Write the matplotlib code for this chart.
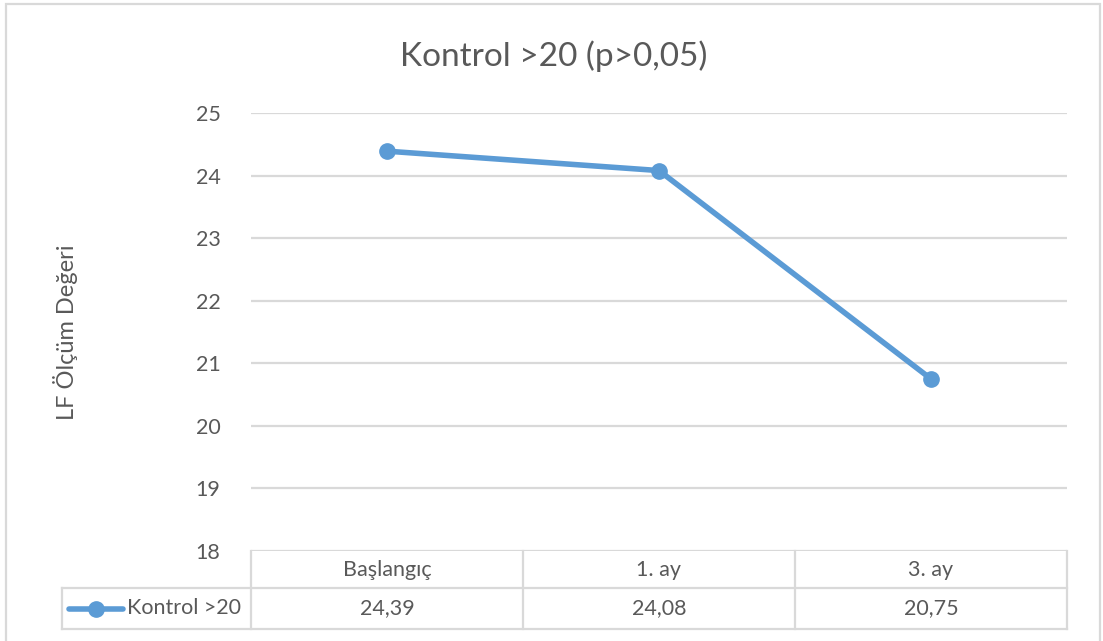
import matplotlib
matplotlib.use("Agg")
import matplotlib.pyplot as plt
from matplotlib.lines import Line2D
from matplotlib.patches import Rectangle
from matplotlib.transforms import blended_transform_factory

# Data
categories = ["Başlangıç", "1. ay", "3. ay"]
values = [24.39, 24.08, 20.75]
value_labels = ["24,39", "24,08", "20,75"]
series_name = "Kontrol >20"
y_ticks = [18, 19, 20, 21, 22, 23, 24, 25]
title = "Kontrol >20 (p>0,05)"
y_label = "LF Ölçüm Değeri"

W, H = 1103, 641
TEXT = "#595959"
GRID = "#d9d9d9"
BLUE = "#5b9bd5"
FS = 15.5
plt.rcParams["font.family"] = ["Lato", "DejaVu Sans"]

fig = plt.figure(figsize=(W / 100, H / 100), dpi=100)
fig.patch.set_facecolor("white")


def fx(px):
    return px / W


def fy(py):
    return 1 - py / H


# Plot area
left, right, top, bottom = 251, 1067, 113, 551
ax = fig.add_axes([fx(left), fy(bottom), fx(right - left), (bottom - top) / H])
ax.set_xlim(-0.5, len(categories) - 0.5)
ax.set_ylim(min(y_ticks), max(y_ticks))
ax.set_yticks(y_ticks)
ax.set_yticklabels([str(t) for t in y_ticks], fontsize=FS, color=TEXT)
ax.tick_params(axis="y", length=0, pad=22)
ax.set_xticks([])
for s in ax.spines.values():
    s.set_visible(False)
ax.grid(axis="y", color=GRID, linewidth=1.6)
ax.set_axisbelow(True)

x = list(range(len(categories)))
ax.plot(x, values, color=BLUE, linewidth=4, marker="o", markersize=11,
        solid_capstyle="round", zorder=3, clip_on=False)

# Title and axis label
fig.text(fx(554), fy(56), title, fontsize=24, color=TEXT,
         ha="center", va="center")
fig.text(fx(65), fy(332), y_label, fontsize=17, color=TEXT,
         rotation=90, ha="center", va="center")

# Data table below the plot
bt = blended_transform_factory(ax.transData, fig.transFigure)
ft = fig.transFigure
row_top, row_mid, row_bot = 551, 588, 629
legend_left = 62
lw = 1.6

# horizontal rules
for yy in (row_mid, row_bot):
    fig.add_artist(Line2D([fx(legend_left), fx(right)], [fy(yy), fy(yy)],
                          transform=ft, color=GRID, linewidth=lw))
# column boundaries
for xb in [i - 0.5 for i in range(len(categories) + 1)]:
    fig.add_artist(Line2D([xb, xb], [fy(row_top), fy(row_bot)],
                          transform=bt, color=GRID, linewidth=lw))
fig.add_artist(Line2D([fx(legend_left), fx(legend_left)],
                      [fy(row_mid), fy(row_bot)],
                      transform=ft, color=GRID, linewidth=lw))

for i, (cat, lab) in enumerate(zip(categories, value_labels)):
    fig.text(i, fy((row_top + row_mid) / 2), cat, transform=bt,
             fontsize=FS, color=TEXT, ha="center", va="center")
    fig.text(i, fy((row_mid + row_bot) / 2), lab, transform=bt,
             fontsize=FS, color=TEXT, ha="center", va="center")

# legend key in the table
ymid = fy((row_mid + row_bot) / 2)
fig.add_artist(Line2D([fx(69), fx(123)], [ymid, ymid], transform=ft,
                      color=BLUE, linewidth=4, solid_capstyle="round"))
fig.add_artist(Line2D([fx(96)], [ymid], transform=ft, color=BLUE,
                      marker="o", markersize=11, linestyle="none"))
fig.text(fx(127), ymid, series_name, fontsize=FS, color=TEXT,
         ha="left", va="center")

# chart border
fig.add_artist(Rectangle((fx(6), fy(700)), fx(1100 - 6), (700 - 4) / H,
                         transform=ft, fill=False, edgecolor=GRID,
                         linewidth=1.6))

fig.savefig("out.png", dpi=100, facecolor="white")
